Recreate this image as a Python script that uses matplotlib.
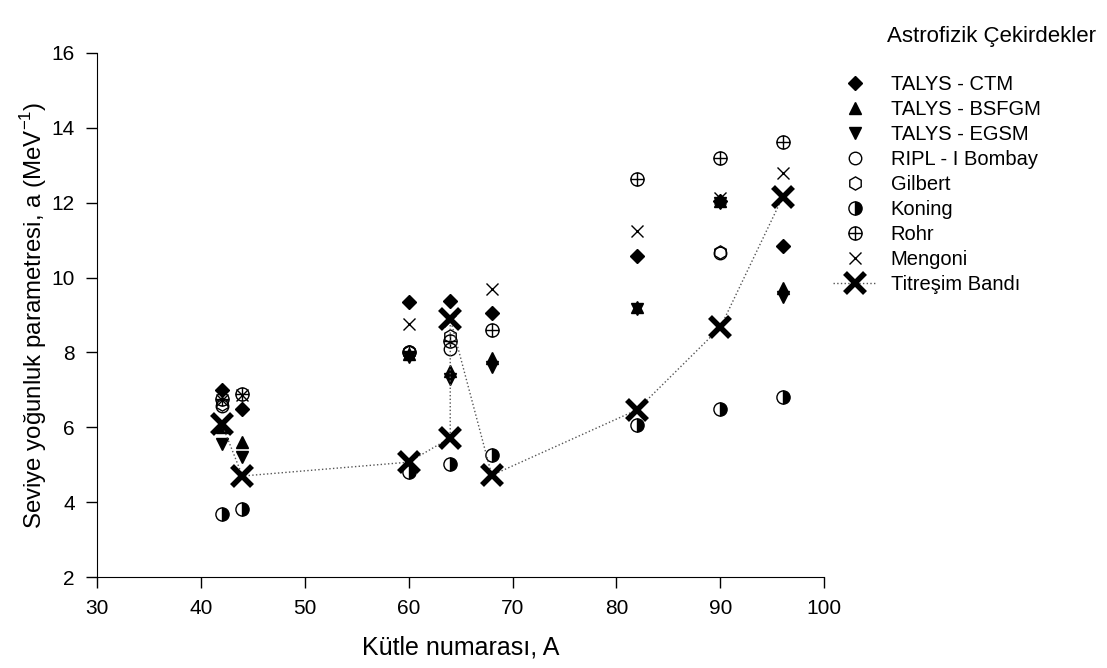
import matplotlib
matplotlib.use("Agg")
import matplotlib.pyplot as plt
from matplotlib.path import Path

plt.rcParams['font.family'] = ['Liberation Sans', 'DejaVu Sans']

# verileri
ctm_A = [42, 44, 60, 64, 68, 82, 90, 96]
ctm_a = [7.0, 6.48, 9.35, 9.37, 9.05, 10.58, 12.05, 10.85]

bsfgm_A = [42, 44, 60, 64, 68, 82, 90, 96]
bsfgm_a = [6.0, 5.6, 7.95, 7.5, 7.85, 9.22, 12.05, 9.72]

egsm_A = [42, 44, 60, 64, 68, 82, 90, 96]
egsm_a = [5.55, 5.22, 7.88, 7.3, 7.62, 9.15, 12.0, 9.47]

ripl_A = [42, 60, 64, 90]
ripl_a = [6.58, 8.0, 8.08, 10.65]

gilbert_A = [42, 60, 64, 90]
gilbert_a = [6.62, 8.02, 8.45, 10.68]

koning_A = [42, 44, 60, 64, 68, 82, 90, 96]
koning_a = [3.68, 3.82, 4.8, 5.03, 5.25, 6.05, 6.5, 6.82]

rohr_A = [42, 44, 60, 64, 68, 82, 90, 96]
rohr_a = [6.75, 6.9, 8.02, 8.3, 8.6, 12.62, 13.18, 13.62]

mengoni_A = [42, 44, 60, 64, 68, 82, 90, 96]
mengoni_a = [6.72, 6.85, 8.75, 8.85, 9.68, 11.25, 12.12, 12.78]

band_A = [42, 44, 60, 64, 64, 68, 82, 90, 96]
band_a = [6.1, 4.7, 5.07, 5.72, 8.9, 4.72, 6.47, 8.67, 12.15]

# Rohr icin daire + arti isareti
rohr_marker = Path.make_compound_path(
    Path.unit_circle(),
    Path([[-1, 0], [1, 0]], [Path.MOVETO, Path.LINETO]),
    Path([[0, -1], [0, 1]], [Path.MOVETO, Path.LINETO]),
)

fig = plt.figure(figsize=(11.07, 6.68), dpi=100)
ax = fig.add_axes([0.0876, 0.136, 0.657, 0.785])

ax.plot(ripl_A, ripl_a, ls='none', marker='o', ms=9, mfc='white', mec='black', mew=1, label='RIPL - I Bombay')
ax.plot(gilbert_A, gilbert_a, ls='none', marker='h', ms=9.5, mfc='none', mec='black', mew=1, label='Gilbert')
ax.plot(rohr_A, rohr_a, ls='none', marker=rohr_marker, ms=9.5, mfc='none', mec='black', mew=1, label='Rohr')
ax.plot(mengoni_A, mengoni_a, ls='none', marker='x', ms=9, mec='black', mew=1, label='Mengoni')
ax.plot(bsfgm_A, bsfgm_a, ls='none', marker='^', ms=9, color='black', label='TALYS - BSFGM')
ax.plot(egsm_A, egsm_a, ls='none', marker='v', ms=9, color='black', label='TALYS - EGSM')
ax.plot(ctm_A, ctm_a, ls='none', marker='D', ms=7.5, color='black', label='TALYS - CTM')
ax.plot(koning_A, koning_a, ls='none', marker='o', ms=9.5, fillstyle='right',
        mfc='black', mfcalt='white', mec='black', mew=1, label='Koning')
ax.plot(band_A, band_a, ls=':', lw=1, color='#555555', marker='x', ms=14, mec='black', mew=4,
        label='Titreşim Bandı')

ax.set_xlim(30, 100)
ax.set_ylim(2, 16)
ax.set_xticks(range(30, 101, 10))
ax.set_yticks(range(2, 17, 2))
ax.spines['top'].set_visible(False)
ax.spines['right'].set_visible(False)
ax.tick_params(direction='out', length=8, width=1, labelsize=15, pad=8)

ax.set_xlabel('Kütle numarası, A', fontsize=18, labelpad=12)
ax.set_ylabel(r'Seviye yoğunluk parametresi, a (MeV$^{\mathregular{-1}}$)', fontsize=17.3, labelpad=2)

fig.text(0.99, 0.946, 'Astrofizik Çekirdekler', ha='right', va='center', fontsize=16)

h, l = ax.get_legend_handles_labels()
order = ['TALYS - CTM', 'TALYS - BSFGM', 'TALYS - EGSM', 'RIPL - I Bombay', 'Gilbert',
         'Koning', 'Rohr', 'Mengoni', 'Titreşim Bandı']
hs = [h[l.index(name)] for name in order]
fig.legend(hs, order, loc='upper left', bbox_to_anchor=(0.7435, 0.903), frameon=False,
           fontsize=14.5, handlelength=2.2, handletextpad=0.65, labelspacing=0.30,
           borderpad=0, numpoints=1)

fig.savefig('out.png', dpi=100)
